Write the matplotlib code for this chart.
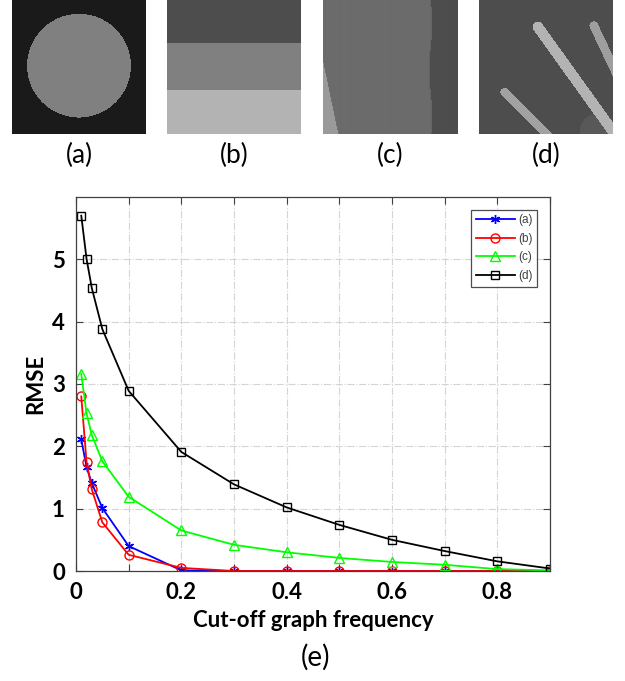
import numpy as np
import matplotlib
matplotlib.use('Agg')
import matplotlib.pyplot as plt

plt.rcParams['font.family'] = ['Lato', 'DejaVu Sans']

# cut-off graph frequency and RMSE of the four test images
freq = [0.01, 0.02, 0.03, 0.05, 0.1, 0.2, 0.3, 0.4, 0.5, 0.6, 0.7, 0.8, 0.9]
rmse_a = [2.11, 1.67, 1.41, 1.01, 0.40, 0.01, 0, 0, 0, 0, 0, 0, 0]
rmse_b = [2.80, 1.75, 1.31, 0.78, 0.26, 0.05, 0, 0, 0, 0, 0, 0, 0]
rmse_c = [3.16, 2.53, 2.18, 1.76, 1.19, 0.65, 0.42, 0.30, 0.21, 0.145, 0.10, 0.03, 0.01]
rmse_d = [5.70, 5.01, 4.54, 3.88, 2.89, 1.91, 1.39, 1.02, 0.74, 0.50, 0.32, 0.155, 0.04]

series_labels = ['(a)', '(b)', '(c)', '(d)']
image_labels = ['(a)', '(b)', '(c)', '(d)']
x_ticks = [0, 0.1, 0.2, 0.3, 0.4, 0.5, 0.6, 0.7, 0.8, 0.9]
x_ticklabels = ['0', '', '0.2', '', '0.4', '', '0.6', '', '0.8', '']
y_ticks = [0, 1, 2, 3, 4, 5]

N = 134
yy, xx = np.mgrid[0:N, 0:N] / (N - 1)


def seg_dist(p0, p1):
    # distance of every pixel to segment p0-p1 (fractions of image size)
    p0, p1 = np.array(p0), np.array(p1)
    d = p1 - p0
    t = ((xx - p0[0]) * d[0] + (yy - p0[1]) * d[1]) / (d @ d)
    t = np.clip(t, 0, 1)
    return np.hypot(xx - (p0[0] + t * d[0]), yy - (p0[1] + t * d[1]))


def image_a():
    img = np.full((N, N), 26.0)
    img[np.hypot(xx - 0.5, yy - 0.49) < 0.39] = 128
    return img


def image_b():
    img = np.full((N, N), 179.0)
    img[yy < 0.67] = 128
    img[yy < 0.32] = 77
    return img


def image_c():
    img = np.full((N, N), 107.0)
    edge = 0.80 + 0.01 * np.sin(yy * 9)
    img[xx > edge] = 77
    img[xx < 0.11 * (yy - 0.47) / 0.53] = 154
    return img


def image_d():
    img = np.full((N, N), 77.0)
    img[np.hypot((xx - 0.86) * 1.3, yy - 1.0) < 0.14] = 88
    img[seg_dist((0.44, 0.2), (1.05, 1.05)) < 0.04] = 179
    img[seg_dist((0.86, 0.19), (1.1, 0.7)) < 0.033] = 158
    img[seg_dist((0.19, 0.69), (0.6, 1.1)) < 0.033] = 162
    return img


images = [image_a(), image_b(), image_c(), image_d()]

fig = plt.figure(figsize=(6.25, 6.81), dpi=100)

img_left = [12, 167, 323, 479]
for left, img, lab in zip(img_left, images, image_labels):
    ax = fig.add_axes([left / 625, 1 - 134 / 681, 134 / 625, 134 / 681])
    ax.imshow(img, cmap='gray', vmin=0, vmax=255, interpolation='bilinear', aspect='auto')
    ax.set_xticks([])
    ax.set_yticks([])
    for s in ax.spines.values():
        s.set_visible(False)
    fig.text((left + 67) / 625, 1 - 155 / 681, lab, ha='center', va='center', fontsize=19)

ax = fig.add_axes([76 / 625, 1 - 571 / 681, 474 / 625, 374 / 681])
styles = [('b', (6, 2, 0)), ('r', 'o'), ((0, 1, 0), '^'), ('k', 's')]
for vals, (col, mk), lab in zip([rmse_a, rmse_b, rmse_c, rmse_d], styles, series_labels):
    ax.plot(freq, vals, color=col, marker=mk, markersize=6.5 if mk != 's' else 6,
            markerfacecolor='none', markeredgewidth=1.0, linewidth=1.3, label=lab)

ax.set_xlim(0, 0.9)
ax.set_ylim(0, 6)
ax.set_xticks(x_ticks)
ax.set_xticklabels(x_ticklabels)
ax.set_yticks(y_ticks)
ax.tick_params(direction='in', top=True, right=True, length=5, width=0.8,
               color='#404040', labelsize=16, pad=8)
for t in ax.get_xticklabels() + ax.get_yticklabels():
    t.set_fontweight('bold')
ax.grid(True, linestyle='-.', color='#d4d4d4', linewidth=0.8)
for s in ax.spines.values():
    s.set_color('#404040')
    s.set_linewidth(0.9)
ax.set_xlabel('Cut-off graph frequency', fontsize=16, fontweight='bold', labelpad=5)
ax.set_ylabel('RMSE', fontsize=16, fontweight='bold', labelpad=4)

leg = ax.legend(loc='upper right', frameon=True, fancybox=False,
                borderpad=0.4, handlelength=3.3, handletextpad=0.25, labelspacing=0.55,
                bbox_to_anchor=(0.985, 0.982), prop={'family': 'Liberation Sans', 'size': 8.5})
leg.get_frame().set_edgecolor('#202020')
leg.get_frame().set_linewidth(0.9)
for t in leg.get_texts():
    t.set_color('#404040')

fig.text(315 / 625, 1 - 657 / 681, '(e)', ha='center', va='center', fontsize=20)

fig.savefig('out.png', dpi=100)
